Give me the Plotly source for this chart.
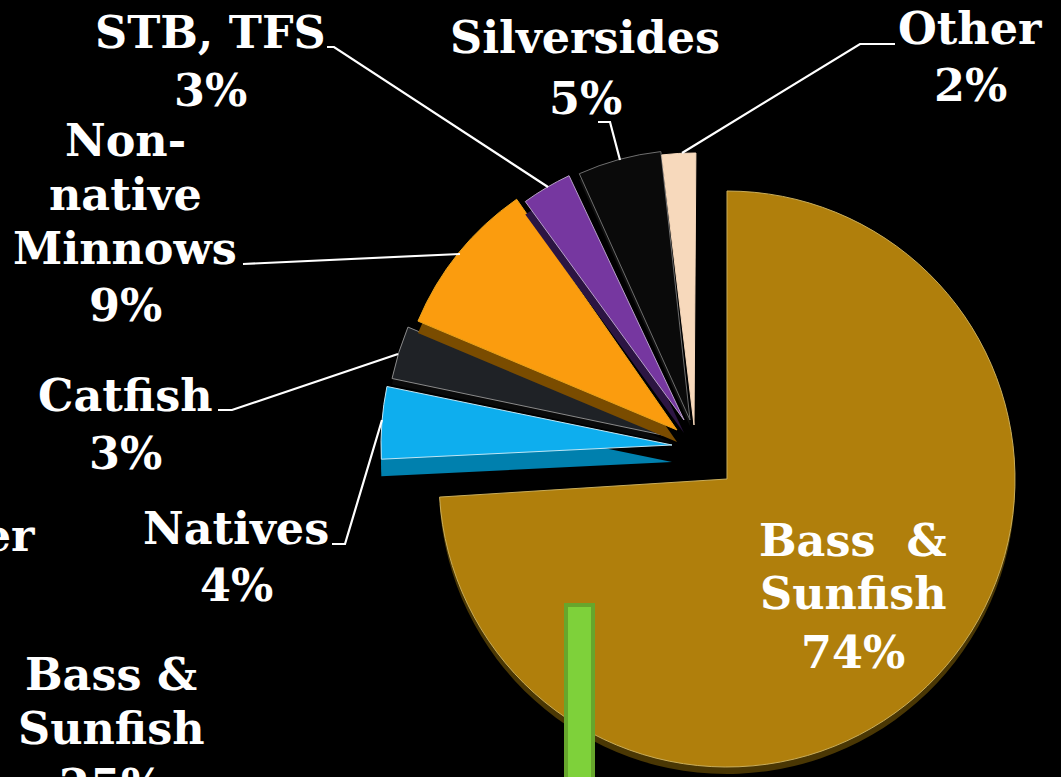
import plotly.graph_objects as go

W, H = 1061, 777

species = ["Bass & Sunfish", "Natives", "Catfish", "Non-native Minnows", "STB, TFS", "Silversides", "Other"]
shares = [74, 4, 3, 9, 3, 5, 2]
top_colors = ["#B07F0C", "#0EAEEE", "#1F2226", "#FB9C0E", "#7637A0", "#0A0A0A", "#F7D9BC"]
side_colors = ["#4A3704", "#0080AE", "#0A0A0A", "#7A4C00", "#2C1542", "#101010", "#C9AE96"]
rim_colors = ["#C9AD5A", "#BFE6F5", "#8A8A8A", "#E8A21C", "#B7A0C8", "#6E6E6E", "#F7D9BC"]

# drawn geometry of each tilted wedge: apex x, apex y, radius, start angle, depth of the side
wedge_x = [727, 672, 672, 677, 684, 690, 694]
wedge_y = [479, 445, 437, 430, 420, 420, 425]
wedge_r = [288, 291, 286, 281, 270, 270, 272]
wedge_start = [0, 267.2, 281.8, 292.8, 324, 335.8, 353.2]
wedge_depth = [7, 17, 6, 12, 13, 6, 0]

# label lines: text, centre x, centre y
label_lines = [("STB, TFS", 210, 32), ("3%", 210, 90),
               ("Silversides", 585, 37), ("5%", 585, 98),
               ("Other", 970, 28), ("2%", 970, 85),
               ("Non-", 125, 140), ("native", 125, 194), ("Minnows", 125, 248), ("9%", 125, 305),
               ("Catfish", 125, 395), ("3%", 125, 453),
               ("Natives", 236, 528), ("4%", 236, 585),
               ("Bass  &", 853, 540), ("Sunfish", 853, 593), ("74%", 853, 652),
               ("Bass &", 111, 674), ("Sunfish", 111, 728), ("25%", 111, 785)]
leaders = [[(327, 47), (334, 47), (548, 187)],
           [(243, 264), (460, 254)],
           [(218, 410), (232, 410), (398, 354)],
           [(332, 544), (345, 544), (382, 420)],
           [(598, 122), (610, 122), (620, 160)],
           [(682, 153), (860, 44), (895, 44)]]
FONT = "DejaVu Serif"
FONT_SIZE = 44.5
T = "rgba(0,0,0,0)"


def dom(cx, cy, half):
    return dict(x=[(cx - half) / W, (cx + half) / W], y=[1 - (cy + half) / H, 1 - (cy - half) / H])


def wedge(i, color, line, width, dy=0):
    return go.Pie(values=[shares[i], sum(shares) - shares[i]],
                  marker=dict(colors=[color, T], line=dict(color=[line, T], width=[width, 0])),
                  domain=dom(wedge_x[i], wedge_y[i] + dy, wedge_r[i]), sort=False, direction="clockwise",
                  rotation=wedge_start[i], textinfo="none", hoverinfo="skip", showlegend=False)


fig = go.Figure()
for i in range(len(shares)):
    if wedge_depth[i]:
        fig.add_trace(wedge(i, side_colors[i], T, 0, dy=wedge_depth[i]))
    fig.add_trace(wedge(i, top_colors[i], rim_colors[i], 1))

annotations = []
for t, x, y in label_lines:
    annotations.append(dict(text=t, x=x / W, y=1 - y / H, xref="paper", yref="paper", xanchor="center",
                            yanchor="middle", showarrow=False,
                            font=dict(family=FONT, size=FONT_SIZE, color="#FFFFFF", weight="bold")))
# word of the neighbouring chart, cut by the frame
annotations.append(dict(text="Other", x=37 / W, y=1 - 535 / H, xref="paper", yref="paper", xanchor="right",
                        yanchor="middle", showarrow=False,
                        font=dict(family=FONT, size=FONT_SIZE, color="#FFFFFF", weight="bold")))

shapes = []
for pts in leaders:
    path = "M " + " L ".join(f"{x / W:.5f} {1 - y / H:.5f}" for x, y in pts)
    shapes.append(dict(type="path", path=path, xref="paper", yref="paper",
                       line=dict(color="#FFFFFF", width=2.2)))
shapes.append(dict(type="rect", xref="paper", yref="paper", x0=566 / W, x1=593 / W, y0=-0.01, y1=1 - 605 / H,
                   fillcolor="#7ED13A", line=dict(color="#67A62C", width=4)))

fig.update_layout(width=W, height=H, margin=dict(l=0, r=0, t=0, b=0), paper_bgcolor="#000000",
                  plot_bgcolor="#000000", annotations=annotations, shapes=shapes)
fig.write_html("out.html", config=dict(displayModeBar=False),
               post_script="document.body.style.margin='0';document.body.style.background='#000';document.body.style.overflow='hidden';")
